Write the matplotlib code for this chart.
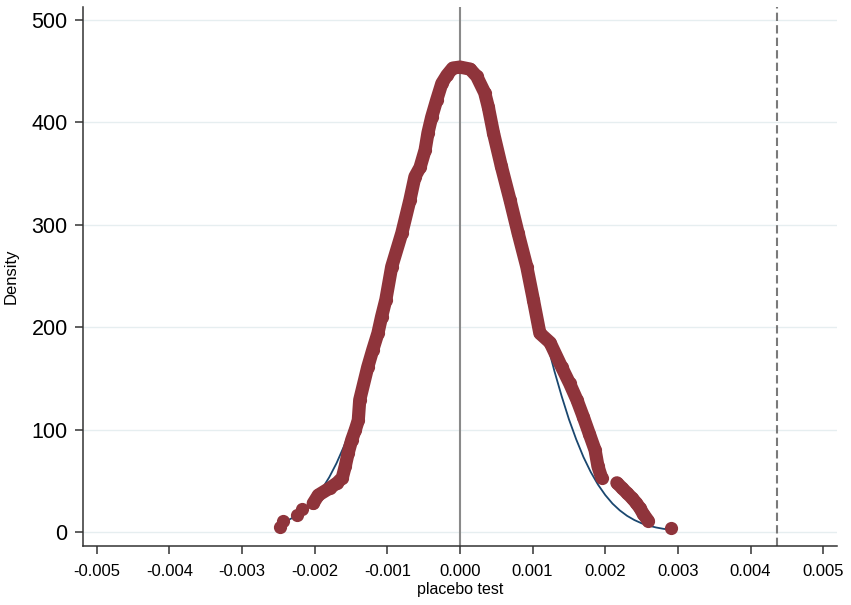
import numpy as np
import matplotlib.pyplot as plt

plt.rcParams['font.family'] = ['Liberation Sans', 'DejaVu Sans']

# kernel density of the placebo estimates
band_x = [-0.00202, -0.00195, -0.00179, -0.00169, -0.00162, -0.00158, -0.00154,
          -0.00149, -0.00144, -0.00140, -0.00138, -0.00127, -0.00120, -0.00113,
          -0.00108, -0.00102, -0.00094, -0.00080, -0.00069, -0.00062, -0.00055,
          -0.00048, -0.00044, -0.00039, -0.00032, -0.00025, -0.00018, -0.00010,
          0.00000, 0.00014, 0.00023, 0.00034, 0.00039, 0.00046, 0.00057, 0.00069,
          0.00080, 0.00092, 0.00101, 0.00110, 0.00124, 0.00140, 0.00151, 0.00161,
          0.00170, 0.00178, 0.00186, 0.00190, 0.00195]
band_y = [28, 36, 43, 48, 53, 64, 77,
          90, 100, 109, 129, 161, 178, 194,
          210, 227, 259, 292, 324, 347, 356,
          373, 390, 405, 422, 438, 446, 453,
          454, 452, 445, 429, 415, 390, 357, 324,
          292, 259, 227, 194, 185, 161, 145, 129,
          112, 96, 80, 64, 53]

right_x = [0.00216, 0.00223, 0.00230, 0.00237, 0.00243, 0.00248, 0.00252, 0.00259]
right_y = [48, 43, 38, 33, 28, 23, 18, 11]

lone_x = [-0.00248, -0.00243, -0.00224, -0.00217, 0.00290]
lone_y = [5, 11, 17, 22, 4]

# normal density overlay
norm_x = [-0.0025, -0.0024, -0.0023, -0.0022, -0.0021, -0.0020, -0.0019, -0.0018,
          -0.0017, -0.0016, -0.0015, -0.0014, -0.0013, -0.0012, -0.0011, -0.0010,
          -0.0009, -0.0007, -0.0005, -0.0003, -0.0001, 0.0001, 0.0003, 0.0005,
          0.0007, 0.0009, 0.0010, 0.0011, 0.0012, 0.0013, 0.0014, 0.0015, 0.0016,
          0.0017, 0.0018, 0.0019, 0.0020, 0.0021, 0.0022, 0.0023, 0.0024, 0.0025,
          0.0026, 0.0027, 0.0028, 0.0029]
norm_y = [7.5, 10.3, 14.0, 18.8, 24.9, 32.5, 42.0, 53.4,
          67.1, 83.2, 101.9, 123.2, 147.1, 173.3, 201.5, 231.4,
          262.4, 324.0, 380.4, 424.0, 448.8, 451.1, 430.7, 390.4,
          336.1, 274.8, 243.6, 213.4, 184.4, 157.2, 132.6, 110.1, 90.5,
          73.2, 58.6, 46.3, 36.1, 27.7, 21.1, 15.8, 11.7, 8.5,
          6.2, 4.4, 3.1, 2.1]

true_effect = 0.00437

x_ticks = [-0.005, -0.004, -0.003, -0.002, -0.001, 0.0, 0.001, 0.002, 0.003, 0.004, 0.005]
y_ticks = [0, 100, 200, 300, 400, 500]

maroon = '#8F343B'
navy = '#1A476F'
ms = 9.5

fig = plt.figure(figsize=(8.51, 6.05), dpi=100)
ax = fig.add_axes([0.0975, 0.0975, 0.886, 0.891])

for yv in y_ticks:
    ax.axhline(yv, color='#E6EEF0', lw=1.0, zorder=0)

ax.axvline(0, color='#8A8A8A', lw=1.5, zorder=1)
ax.axvline(true_effect, color='#7A7A7A', lw=1.5, dashes=(4, 2), zorder=1)

ax.plot(norm_x, norm_y, color=navy, lw=1.3, zorder=2)

for xs, ys in [(band_x, band_y), (right_x, right_y)]:
    ax.plot(xs, ys, color=maroon, lw=ms, solid_capstyle='round',
            solid_joinstyle='round', zorder=3)
    ax.plot(xs, ys, 'o', color=maroon, ms=ms, mec='none', zorder=3)
ax.plot(lone_x, lone_y, 'o', color=maroon, ms=ms, mec='none', zorder=3)

ax.set_xlim(-0.00519, 0.00519)
ax.set_ylim(-13.7, 512.7)
ax.set_xticks(x_ticks)
ax.set_xticklabels(['%.3f' % v for v in x_ticks], fontsize=12)
ax.set_yticks(y_ticks)
ax.set_yticklabels([str(v) for v in y_ticks], fontsize=15.5)
ax.tick_params(axis='both', direction='out', length=6, width=1.1, color='#333333')
ax.tick_params(axis='x', pad=7)
ax.tick_params(axis='y', pad=5)

for s in ['top', 'right']:
    ax.spines[s].set_visible(False)
for s in ['left', 'bottom']:
    ax.spines[s].set_color('#333333')
    ax.spines[s].set_linewidth(1.1)

ax.set_xlabel('placebo test', fontsize=11.5)
ax.xaxis.set_label_coords(0.5, -0.066)
ax.set_ylabel('Density', fontsize=12)
ax.yaxis.set_label_coords(-0.085, 0.5)

fig.savefig('out.png', dpi=100)
